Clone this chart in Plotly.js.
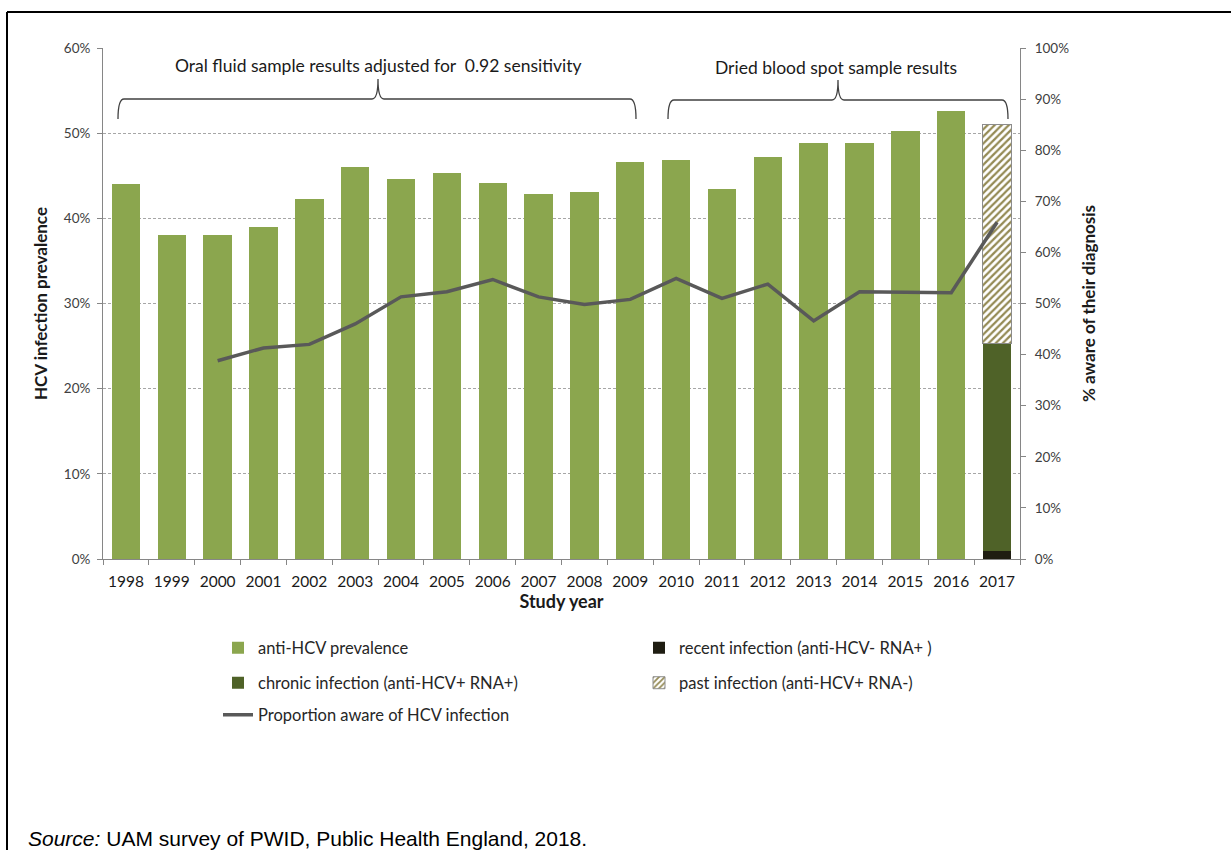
<!DOCTYPE html>
<html>
<head>
<meta charset="utf-8">
<script src="https://cdn.plot.ly/plotly-3.0.1.min.js"></script>
<style>html,body{margin:0;padding:0;background:#fff}#chart{width:1231px;height:850px}</style>
</head>
<body>
<div id="chart"></div>
<script>
// ---- data ----
const years = ['1998','1999','2000','2001','2002','2003','2004','2005','2006','2007','2008','2009','2010','2011','2012','2013','2014','2015','2016','2017'];
const prevYears = years.slice(0, 19);
const antiHCV = [44.0, 38.0, 38.0, 39.0, 42.3, 46.0, 44.6, 45.3, 44.1, 42.8, 43.1, 46.6, 46.9, 43.4, 47.2, 48.9, 48.9, 50.3, 52.6];
const stackYear = ['2017'];
const recentInf = [0.9];
const chronicInf = [24.4];
const pastInf = [25.7];
const awareYears = years.slice(2);
const awarePct = [38.8, 41.3, 42.0, 46.0, 51.3, 52.3, 54.7, 51.3, 49.8, 50.8, 54.9, 51.0, 53.8, 46.6, 52.3, 52.2, 52.1, 65.9];
const leftTicks = [0, 10, 20, 30, 40, 50, 60];
const leftTickText = ['0%', '10%', '20%', '30%', '40%', '50%', '60%'];
const rightTicks = [0, 10, 20, 30, 40, 50, 60, 70, 80, 90, 100];
const rightTickText = ['0%', '10%', '20%', '30%', '40%', '50%', '60%', '70%', '80%', '90%', '100%'];

const F = 'Lato, "Open Sans", sans-serif';

const traces = [
  {type:'bar', name:'anti-HCV prevalence', x:prevYears, y:antiHCV,
   marker:{color:'#8BA64E'}, legend:'legend'},
  {type:'bar', name:'recent infection (anti-HCV- RNA+ )', x:stackYear, y:recentInf,
   marker:{color:'#1F1D12'}, legend:'legend'},
  {type:'bar', name:'chronic infection (anti-HCV+ RNA+)', x:stackYear, y:chronicInf,
   marker:{color:'#4F6228'}, legend:'legend2'},
  {type:'bar', name:'past infection (anti-HCV+ RNA-)', x:stackYear, y:pastInf,
   marker:{color:'#948A54', line:{color:'#8C8C8C', width:1},
     pattern:{shape:'/', fgcolor:'#948A54', bgcolor:'#ffffff', size:5, solidity:0.45}},
   legend:'legend2'},
  {type:'scatter', mode:'lines', name:'Proportion aware of HCV infection', x:awareYears, y:awarePct,
   yaxis:'y2', line:{color:'#595959', width:3.5}, legend:'legend3'}
];

const W = 917, H = 511, L = 103, T = 48;
const px = v => (v - L) / W;
const py = v => (T + H - v) / H;

function brace(x1, xm, x2, yb, yl, yp) {
  const r = 6;
  return 'M' + px(x1) + ',' + py(yb) +
    ' Q' + px(x1) + ',' + py(yl) + ' ' + px(x1 + r) + ',' + py(yl) +
    ' L' + px(xm - r) + ',' + py(yl) +
    ' Q' + px(xm) + ',' + py(yl) + ' ' + px(xm) + ',' + py(yp) +
    ' Q' + px(xm) + ',' + py(yl) + ' ' + px(xm + r) + ',' + py(yl) +
    ' L' + px(x2 - r) + ',' + py(yl) +
    ' Q' + px(x2) + ',' + py(yl) + ' ' + px(x2) + ',' + py(yb);
}

const legendBase = {orientation:'h', xanchor:'left', yanchor:'middle', entrywidth:376, entrywidthmode:'pixels',
  font:{family:F, size:16.5, color:'#262626'}, bgcolor:'rgba(0,0,0,0)', traceorder:'normal'};

const layout = {
  width:1231, height:850,
  margin:{l:L, r:1231 - L - W, t:T, b:850 - T - H},
  paper_bgcolor:'#ffffff', plot_bgcolor:'#ffffff',
  barmode:'stack', bargap:0.38,
  showlegend:true,
  font:{family:F, color:'#262626'},
  xaxis:{type:'category', categoryorder:'array', categoryarray:years, tickson:'boundaries',
    ticks:'outside', ticklen:5, tickcolor:'#868686', showline:true, linecolor:'#868686', linewidth:1,
    tickfont:{family:F, size:15.5, color:'#1a1a1a'}, tickangle:0, showgrid:false, ticklabelstandoff:8,
    title:{text:'<b>Study year</b>', font:{family:F, size:18, color:'#1a1a1a'}, standoff:4}},
  yaxis:{range:[0,60], tickvals:leftTicks, ticktext:leftTickText, ticks:'outside', ticklen:5, tickcolor:'#868686',
    showline:true, linecolor:'#868686', linewidth:1, tickfont:{family:F, size:13.5, color:'#404040'},
    showgrid:true, gridcolor:'#a6a6a6', griddash:'3px,2px', gridwidth:1, zeroline:false, ticklabelstandoff:4,
    title:{text:'<b>HCV infection prevalence</b>', font:{family:F, size:17, color:'#1a1a1a'}, standoff:11}},
  yaxis2:{overlaying:'y', side:'right', range:[0,100], tickvals:rightTicks, ticktext:rightTickText, ticks:'outside', ticklen:5,
    tickcolor:'#868686', showline:true, linecolor:'#868686', linewidth:1, tickfont:{family:F, size:13.5, color:'#404040'},
    showgrid:false, zeroline:false, ticklabelstandoff:6,
    title:{text:'<b>% aware of their diagnosis</b>', font:{family:F, size:17, color:'#1a1a1a'}, standoff:14}},
  legend:Object.assign({}, legendBase, {x:px(218), y:py(648)}),
  legend2:Object.assign({}, legendBase, {x:px(218), y:py(683)}),
  legend3:Object.assign({}, legendBase, {x:px(218), y:py(715)}),
  annotations:[
    {xref:'paper', yref:'paper', x:px(378), y:py(65), text:'Oral fluid sample results adjusted for  0.92 sensitivity',
     showarrow:false, xanchor:'center', yanchor:'middle', font:{family:F, size:17.5, color:'#1a1a1a'}},
    {xref:'paper', yref:'paper', x:px(836), y:py(67), text:'Dried blood spot sample results',
     showarrow:false, xanchor:'center', yanchor:'middle', font:{family:F, size:17.5, color:'#1a1a1a'}},
    {xref:'paper', yref:'paper', x:px(26), y:py(838), text:'<i>Source:</i> UAM survey of PWID, Public Health England, 2018.',
     showarrow:false, xanchor:'left', yanchor:'middle', font:{family:'"Liberation Sans", Arial, sans-serif', size:21, color:'#000'}}
  ],
  shapes:[
    {type:'path', xref:'paper', yref:'paper', path:brace(118, 378, 636, 119, 99, 79), line:{color:'#404040', width:1.3}},
    {type:'path', xref:'paper', yref:'paper', path:brace(668, 838, 1008, 119, 100, 80), line:{color:'#404040', width:1.3}},
    {type:'line', xref:'paper', yref:'paper', x0:px(7), x1:px(1232), y0:py(12), y1:py(12), line:{color:'#000', width:2}},
    {type:'line', xref:'paper', yref:'paper', x0:px(7), x1:px(7), y0:py(12), y1:py(851), line:{color:'#000', width:2}}
  ]
};

Plotly.newPlot('chart', traces, layout, {staticPlot:true, displayModeBar:false});
</script>
</body>
</html>
